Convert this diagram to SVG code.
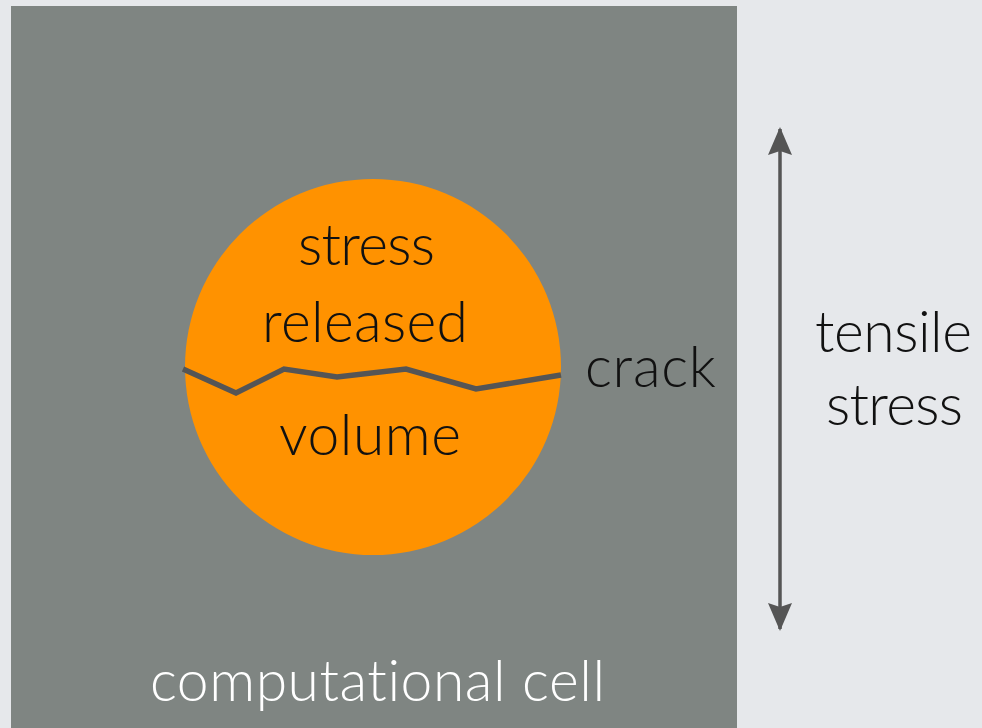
<svg xmlns="http://www.w3.org/2000/svg" width="982" height="728" viewBox="0 0 982 728">
<defs>
<style>
.t{font-family:"Lato","Open Sans",sans-serif;font-weight:300;font-size:57px;text-anchor:middle;fill:#111;font-variant-ligatures:none}
.w{fill:#ffffff}
</style>
<marker id="ah" viewBox="0 0 28 24" refX="26" refY="12" markerWidth="28" markerHeight="24" markerUnits="userSpaceOnUse" orient="auto-start-reverse">
<path d="M28 12 L0 0 L4 12 L0 24 Z" fill="#555555"/>
</marker>
</defs>
<rect width="982" height="728" fill="#e6e8eb"/>
<g id="cell">
<rect x="11" y="6" width="726" height="722" fill="#7f8582"/>
<text class="t w" x="377.5" y="701" textLength="455" lengthAdjust="spacing">computational cell</text>
</g>
<g id="volume">
<circle cx="373" cy="367" r="188" fill="#ff9200"/>
<text class="t" x="366.5" y="265" textLength="137" lengthAdjust="spacing">stress</text>
<text class="t" x="365" y="342" textLength="206" lengthAdjust="spacing">released</text>
<text class="t" x="370" y="455" textLength="182" lengthAdjust="spacing">volume</text>
</g>
<g id="crack">
<polyline points="183,369 236,393 284,369 337,377 406,369 476,389 561,375" fill="none" stroke="#555555" stroke-width="5.5" stroke-linejoin="miter"/>
<text class="t" x="650.5" y="387" textLength="131" lengthAdjust="spacing">crack</text>
</g>
<g id="connectors">
<line x1="780" y1="129" x2="780" y2="629" stroke="#555555" stroke-width="3.5" marker-start="url(#ah)" marker-end="url(#ah)"/>
</g>
<g id="stress-label">
<text class="t" x="893.5" y="352" textLength="157" lengthAdjust="spacing">tensile</text>
<text class="t" x="894.5" y="425" textLength="137" lengthAdjust="spacing">stress</text>
</g>
</svg>
